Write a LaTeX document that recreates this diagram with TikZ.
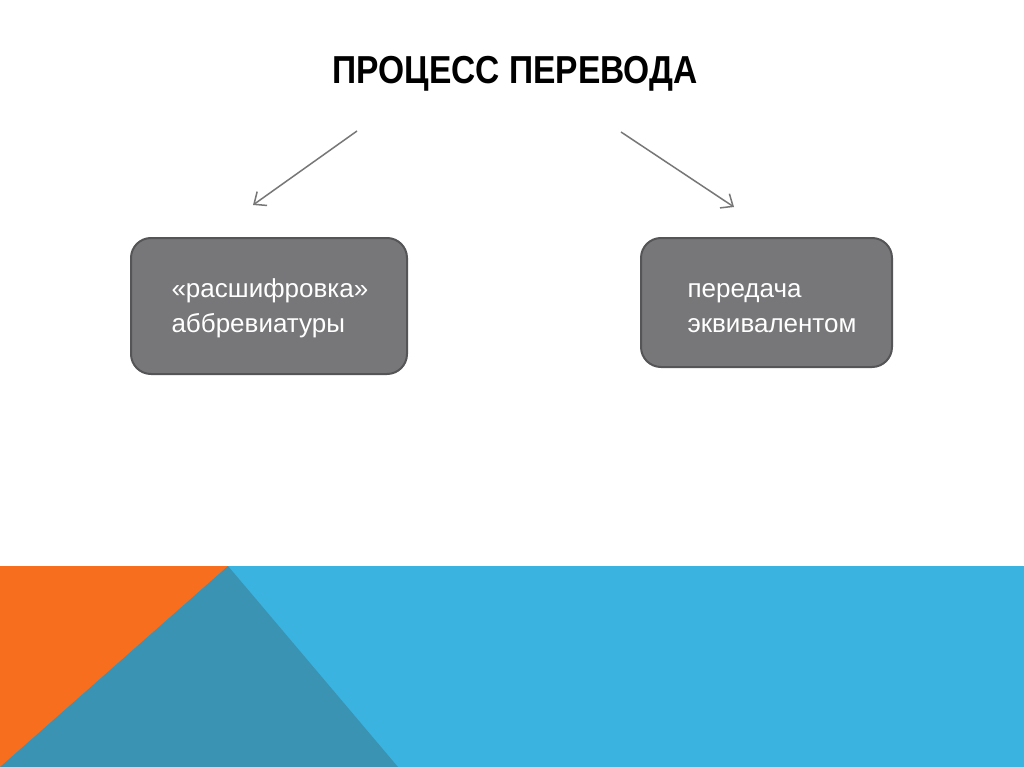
\documentclass[tikz,border=0pt]{standalone}
\usepackage{fontspec}
\setmainfont{Liberation Sans}
\usetikzlibrary{arrows.meta}
\definecolor{boxgrey}{HTML}{77777A}
\definecolor{boxedge}{HTML}{555558}
\definecolor{arrowgrey}{HTML}{777777}
\definecolor{bandblue}{HTML}{3BB3E0}
\definecolor{bandteal}{HTML}{3A93B2}
\definecolor{bandorange}{HTML}{F66E1E}
\tikzset{
  stagebox/.style={draw=boxedge, line width=2pt, fill=boxgrey, rounded corners=20pt, inner sep=0pt},
  stagetext/.style={text=white, align=left, anchor=west, font=\fontsize{26}{35}\selectfont},
  linkarrow/.style={draw=arrowgrey, line width=1.5pt, -{Straight Barb[length=10pt,width=17pt]}}
}
\begin{document}
\begin{tikzpicture}[x=1pt,y=-1pt]
    \useasboundingbox (0,0) rectangle (1024,767);
    \fill[white] (0,0) rectangle (1024,767);

    % bottom band
    \fill[bandblue] (0,566) rectangle (1024,767);
    \fill[bandorange] (0,566) -- (228,566) -- (0,767) -- cycle;
    \fill[bandteal] (228,566) -- (0,767) -- (398,767) -- cycle;

    \node[font=\bfseries\fontsize{39}{39}\selectfont, xscale=0.86] (title) at (515,74) {ПРОЦЕСС ПЕРЕВОДА};

    \node[stagebox, minimum width=276pt, minimum height=136pt] (decode) at (269,306) {};
    \node[stagebox, minimum width=251pt, minimum height=129pt] (equiv) at (766.5,302.5) {};
    \node[stagetext] (decodetext) at (168,308) {«расшифровка»\\аббревиатуры};
    \node[stagetext] (equivtext) at (684,308) {передача\\эквивалентом};

    \coordinate (leftfrom) at (357,131);
    \coordinate (leftto) at (253,205);
    \coordinate (rightfrom) at (621,132);
    \coordinate (rightto) at (734,207);
    \draw[linkarrow] (leftfrom) -- (leftto);
    \draw[linkarrow] (rightfrom) -- (rightto);
\end{tikzpicture}
\end{document}
